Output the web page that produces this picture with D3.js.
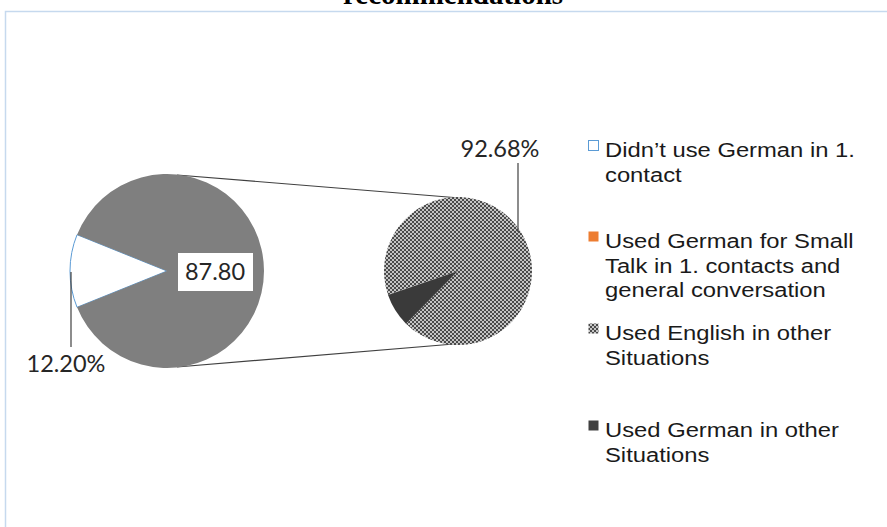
<!DOCTYPE html>
<html>
<head>
<meta charset="utf-8">
<script src="https://cdn.jsdelivr.net/npm/d3@7"></script>
<style>
  body { margin: 0; background: #fff; }
  svg { display: block; }
</style>
</head>
<body>
<svg id="chart" width="887" height="527"></svg>
<script>
// main pie: didn't use German vs. the rest (split out into the second pie)
const mainLabels = ["Didn't use German in 1. contact", "Other"];
const mainValues = [12.20, 87.80];

// second pie: breakdown of the 87.80 part
const subLabels = ["Used English in other Situations", "Used German in other Situations"];
const subValues = [92.68, 7.32];

const legendItems = [
  ["Didn\u2019t use German in 1.", "contact"],
  ["Used German for Small", "Talk in 1. contacts and", "general conversation"],
  ["Used English in other", "Situations"],
  ["Used German in other", "Situations"]
];

const svg = d3.select("#chart");
const deg = Math.PI / 180;

const defs = svg.append("defs");
const pat = defs.append("pattern")
  .attr("id", "dots")
  .attr("patternUnits", "userSpaceOnUse")
  .attr("width", 4)
  .attr("height", 4);
pat.append("rect").attr("width", 4).attr("height", 4).attr("fill", "#c4c4c4");
pat.append("rect").attr("width", 2).attr("height", 2).attr("fill", "#4a4a4a");
pat.append("rect").attr("x", 2).attr("y", 2).attr("width", 2).attr("height", 2).attr("fill", "#4a4a4a");

// title, mostly cut off by the top edge
svg.append("text")
  .attr("x", 453)
  .attr("y", 4)
  .attr("text-anchor", "middle")
  .style("font-family", "Liberation Serif, Times New Roman, serif")
  .style("font-weight", "bold")
  .style("font-size", "29px")
  .text("recommendations");

// chart frame
svg.append("path")
  .attr("d", "M5.5,527 V11.5 H887")
  .attr("fill", "none")
  .attr("stroke", "#c6d9ee")
  .attr("stroke-width", 1.5);

// --- main pie
const mainC = { x: 167, y: 271, r: 97 };
const whiteStart = 270 * deg - (mainValues[0] / 100) * Math.PI;
const mainPie = d3.pie().sort(null)
  .startAngle(whiteStart)
  .endAngle(whiteStart + 2 * Math.PI);
const mainArcs = mainPie(mainValues);
const mainArc = d3.arc().innerRadius(0).outerRadius(mainC.r);

// --- second pie
const subC = { x: 458, y: 271, r: 74 };
const subStart = 251 * deg;
const subPie = d3.pie().sort(null)
  .startAngle(subStart)
  .endAngle(subStart + 2 * Math.PI);
const subArcs = subPie(subValues);
const subArc = d3.arc().innerRadius(0).outerRadius(subC.r);

// connector lines
const conn = svg.append("g")
  .attr("stroke", "#404040")
  .attr("stroke-width", 1.2)
  .attr("fill", "none");
conn.append("line")
  .attr("x1", mainC.x + 10).attr("y1", mainC.y - mainC.r + 1)
  .attr("x2", subC.x + 2).attr("y2", subC.y - subC.r + 1);
conn.append("line")
  .attr("x1", mainC.x + 10).attr("y1", mainC.y + mainC.r - 1)
  .attr("x2", subC.x - 4).attr("y2", subC.y + subC.r - 1);

const gMain = svg.append("g")
  .attr("transform", `translate(${mainC.x},${mainC.y})`);
gMain.selectAll("path")
  .data(mainArcs)
  .join("path")
  .attr("d", mainArc)
  .attr("fill", (d, i) => i === 0 ? "#ffffff" : "#7f7f7f")
  .attr("stroke", (d, i) => i === 0 ? "#5b9bd5" : "none")
  .attr("stroke-width", 1);

const gSub = svg.append("g")
  .attr("transform", `translate(${subC.x},${subC.y})`);
gSub.selectAll("path")
  .data(subArcs)
  .join("path")
  .attr("d", subArc)
  .attr("fill", (d, i) => i === 0 ? "url(#dots)" : "#3a3a3a");

// data labels
const numFont = "Lato, Carlito, Calibri, sans-serif";

// 87.80 label in a white box
svg.append("rect")
  .attr("x", 178).attr("y", 253)
  .attr("width", 75).attr("height", 38)
  .attr("fill", "#fff");
svg.append("text")
  .attr("x", 215).attr("y", 280)
  .attr("text-anchor", "middle")
  .style("font-family", numFont)
  .style("font-size", "23.5px")
  .attr("fill", "#262626")
  .text(mainValues[1].toFixed(2));

// 12.20% with leader line
svg.append("line")
  .attr("x1", 71).attr("y1", 272)
  .attr("x2", 71).attr("y2", 347)
  .attr("stroke", "#404040").attr("stroke-width", 1.2);
svg.append("text")
  .attr("x", 66).attr("y", 372)
  .attr("text-anchor", "middle")
  .style("font-family", numFont)
  .style("font-size", "23.5px")
  .attr("fill", "#262626")
  .text(mainValues[0].toFixed(2) + "%");

// 92.68% with leader line
svg.append("line")
  .attr("x1", 518).attr("y1", 163)
  .attr("x2", 518).attr("y2", 232)
  .attr("stroke", "#404040").attr("stroke-width", 1.2);
svg.append("text")
  .attr("x", 500).attr("y", 157)
  .attr("text-anchor", "middle")
  .style("font-family", numFont)
  .style("font-size", "23.5px")
  .attr("fill", "#262626")
  .text(subValues[0].toFixed(2) + "%");

// legend (text is drawn a bit stretched, as in the source)
const legendTop = [157, 248, 340, 437];
const lineH = 24.7;
const markerFill = ["#ffffff", "#ed7d31", "url(#dots)", "#404040"];
const markerStroke = ["#5b9bd5", "none", "none", "none"];

const leg = svg.append("g");
legendItems.forEach((lines, i) => {
  const y0 = legendTop[i];
  leg.append("rect")
    .attr("x", 588.5).attr("y", y0 - 16.5)
    .attr("width", 10).attr("height", 10)
    .attr("fill", markerFill[i])
    .attr("stroke", markerStroke[i])
    .attr("stroke-width", 1);
  const t = leg.append("text")
    .attr("transform", "translate(605,0) scale(1.19,1)")
    .style("font-family", "Liberation Sans, Arial, sans-serif")
    .style("font-size", "20px")
    .attr("fill", "#1a1a1a");
  lines.forEach((s, j) => {
    t.append("tspan")
      .attr("x", 0)
      .attr("y", y0 + j * lineH)
      .text(s);
  });
});
</script>
</body>
</html>
